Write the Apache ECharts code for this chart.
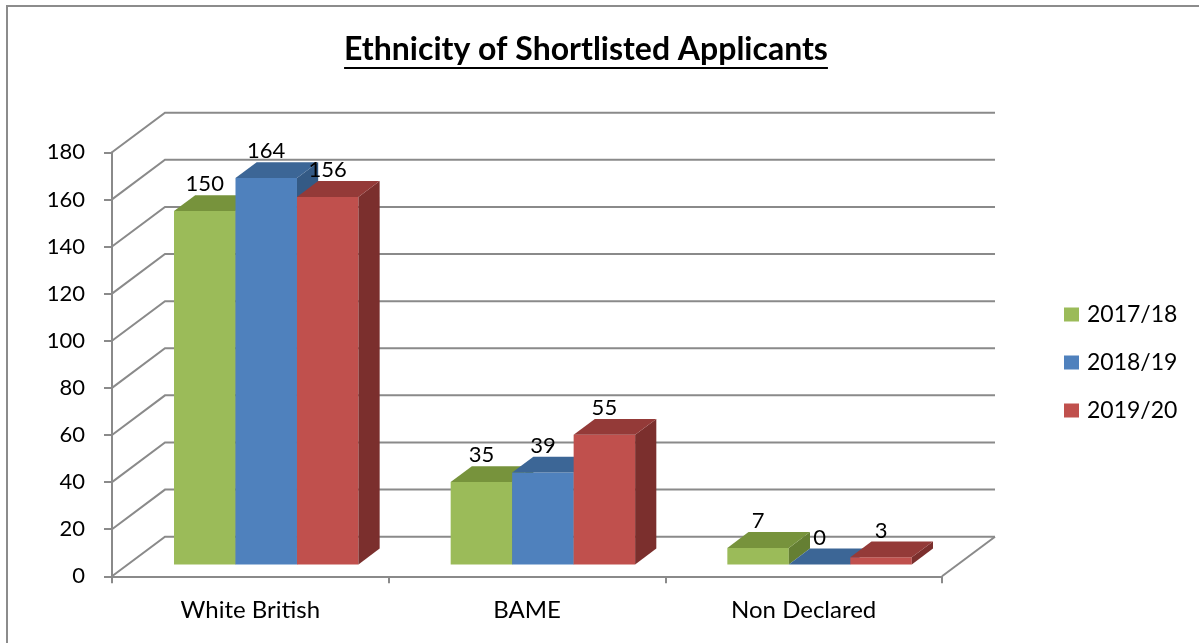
<!DOCTYPE html>
<html><head><meta charset="utf-8">
<script src="https://cdn.jsdelivr.net/npm/echarts/dist/echarts.min.js"></script>
<style>html,body{margin:0;padding:0;background:#fff}#c{width:1199px;height:643px}</style>
</head><body><div id="c"></div>
<script>
const categories = ['White British', 'BAME', 'Non Declared'];
const seriesNames = ['2017/18', '2018/19', '2019/20'];
const values2017 = [150, 35, 7];
const values2018 = [164, 39, 0];
const values2019 = [156, 55, 3];
const yTicks = [0, 20, 40, 60, 80, 100, 120, 140, 160, 180];

const FONT = 'Lato';
const DX = 53, DY = -39.6, D0 = 0.30, D1 = 0.70;
const palette = [
  {front: '#9BBB59', top: '#77933C', side: '#657F33'},
  {front: '#4F81BD', top: '#3C6696', side: '#345A85'},
  {front: '#C0504D', top: '#943A38', side: '#7B2F2D'}
];
const gridColor = '#8A8A8A';

function barRender(si) {
  const col = palette[si];
  return function (params, api) {
    const ci = api.value(0), v = api.value(1);
    const p0 = api.coord([ci, 0]);
    const p1 = api.coord([ci, v]);
    const band = api.size([1, 0])[0];
    const bw = band * 2 / 9;
    const xl = p0[0] - 1.5 * bw + si * bw + D0 * DX;
    const xr = xl + bw;
    const yb = p0[1] + D0 * DY;
    const yt = p1[1] + D0 * DY;
    const ox = (D1 - D0) * DX, oy = (D1 - D0) * DY;
    const children = [];
    if (yb - yt > 0.5) {
      children.push({type: 'polygon', shape: {points: [[xl, yt], [xr, yt], [xr, yb], [xl, yb]]}, style: {fill: col.front}});
      children.push({type: 'polygon', shape: {points: [[xr, yt], [xr + ox, yt + oy], [xr + ox, yb + oy], [xr, yb]]}, style: {fill: col.side}});
    }
    children.push({type: 'polygon', shape: {points: [[xl, yt], [xr, yt], [xr + ox, yt + oy], [xl + ox, yt + oy]]}, style: {fill: col.top}});
    children.push({type: 'text', style: {text: String(v), x: xl + bw / 2, y: yt + oy - 11, align: 'center', verticalAlign: 'middle', font: '22px ' + FONT, fill: '#000'}});
    return {type: 'group', children: children};
  };
}

function gridRender(params, api) {
  const cs = params.coordSys;
  const v = api.value(1);
  const y = api.coord([0, v])[1];
  const x0 = cs.x, x1 = cs.x + cs.width;
  const st = {stroke: gridColor, lineWidth: 2, fill: 'none'};
  const children = [{type: 'polyline', shape: {points: [[x0, y], [x0 + DX, y + DY], [x1 + DX, y + DY]]}, style: st}];
  if (v === 0) children.push({type: 'line', shape: {x1: x1, y1: y, x2: x1 + DX, y2: y + DY}, style: st});
  return {type: 'group', children: children};
}

const titleText = 'Ethnicity of Shortlisted Applicants';
const titleFont = 'bold 32px ' + FONT;
const mctx = document.createElement('canvas').getContext('2d');
mctx.font = titleFont;
const tw = mctx.measureText(titleText).width;
const tcx = 586;

const chart = echarts.init(document.getElementById('c'), null, {renderer: 'canvas'});
const allValues = [values2017, values2018, values2019];
chart.setOption({
  animation: false,
  backgroundColor: '#fff',
  graphic: [
    {type: 'rect', shape: {x: 7, y: 6, width: 1300, height: 800}, style: {fill: 'none', stroke: '#8C8C8C', lineWidth: 2}, z: 100},
    {type: 'text', style: {text: titleText, x: tcx, y: 50, align: 'center', verticalAlign: 'middle', font: titleFont, fill: '#000'}},
    {type: 'line', shape: {x1: tcx - tw / 2, y1: 68, x2: tcx + tw / 2, y2: 68}, style: {stroke: '#000', lineWidth: 2}}
  ],
  legend: {
    data: seriesNames,
    orient: 'vertical',
    left: 1064, top: 303, padding: 0,
    icon: 'rect', itemWidth: 15, itemHeight: 14, itemGap: 25,
    textStyle: {fontFamily: FONT, fontSize: 23, color: '#000', padding: [0, 0, 0, 3]}
  },
  grid: {left: 112, right: 257, top: 152.3, bottom: 66.7, containLabel: false, outerBoundsMode: 'none'},
  xAxis: {
    type: 'category', data: categories,
    axisLine: {lineStyle: {color: gridColor, width: 2}},
    axisTick: {show: true, length: 7, interval: 0, lineStyle: {color: gridColor, width: 2}},
    axisLabel: {fontFamily: FONT, fontSize: 24, color: '#000', margin: 22, interval: 0},
    splitLine: {show: false}
  },
  yAxis: {
    type: 'value', min: 0, max: 180, interval: 20,
    axisLine: {show: true, lineStyle: {color: gridColor, width: 2}},
    axisTick: {show: true, length: 8, lineStyle: {color: gridColor, width: 2}},
    axisLabel: {fontFamily: FONT, fontSize: 22, color: '#000', margin: 27},
    splitLine: {show: false}
  },
  series: [
    {type: 'custom', name: 'grid3d', renderItem: gridRender, data: yTicks.map(v => [0, v]), encode: {x: 0, y: 1}, z: 1, silent: true, clip: false},
  ].concat(seriesNames.map((n, si) => ({
    type: 'custom', name: n, renderItem: barRender(si),
    itemStyle: {color: palette[si].front},
    data: allValues[si].map((v, i) => [i, v]),
    encode: {x: 0, y: 1}, z: 3, clip: false
  })))
});
</script></body></html>
